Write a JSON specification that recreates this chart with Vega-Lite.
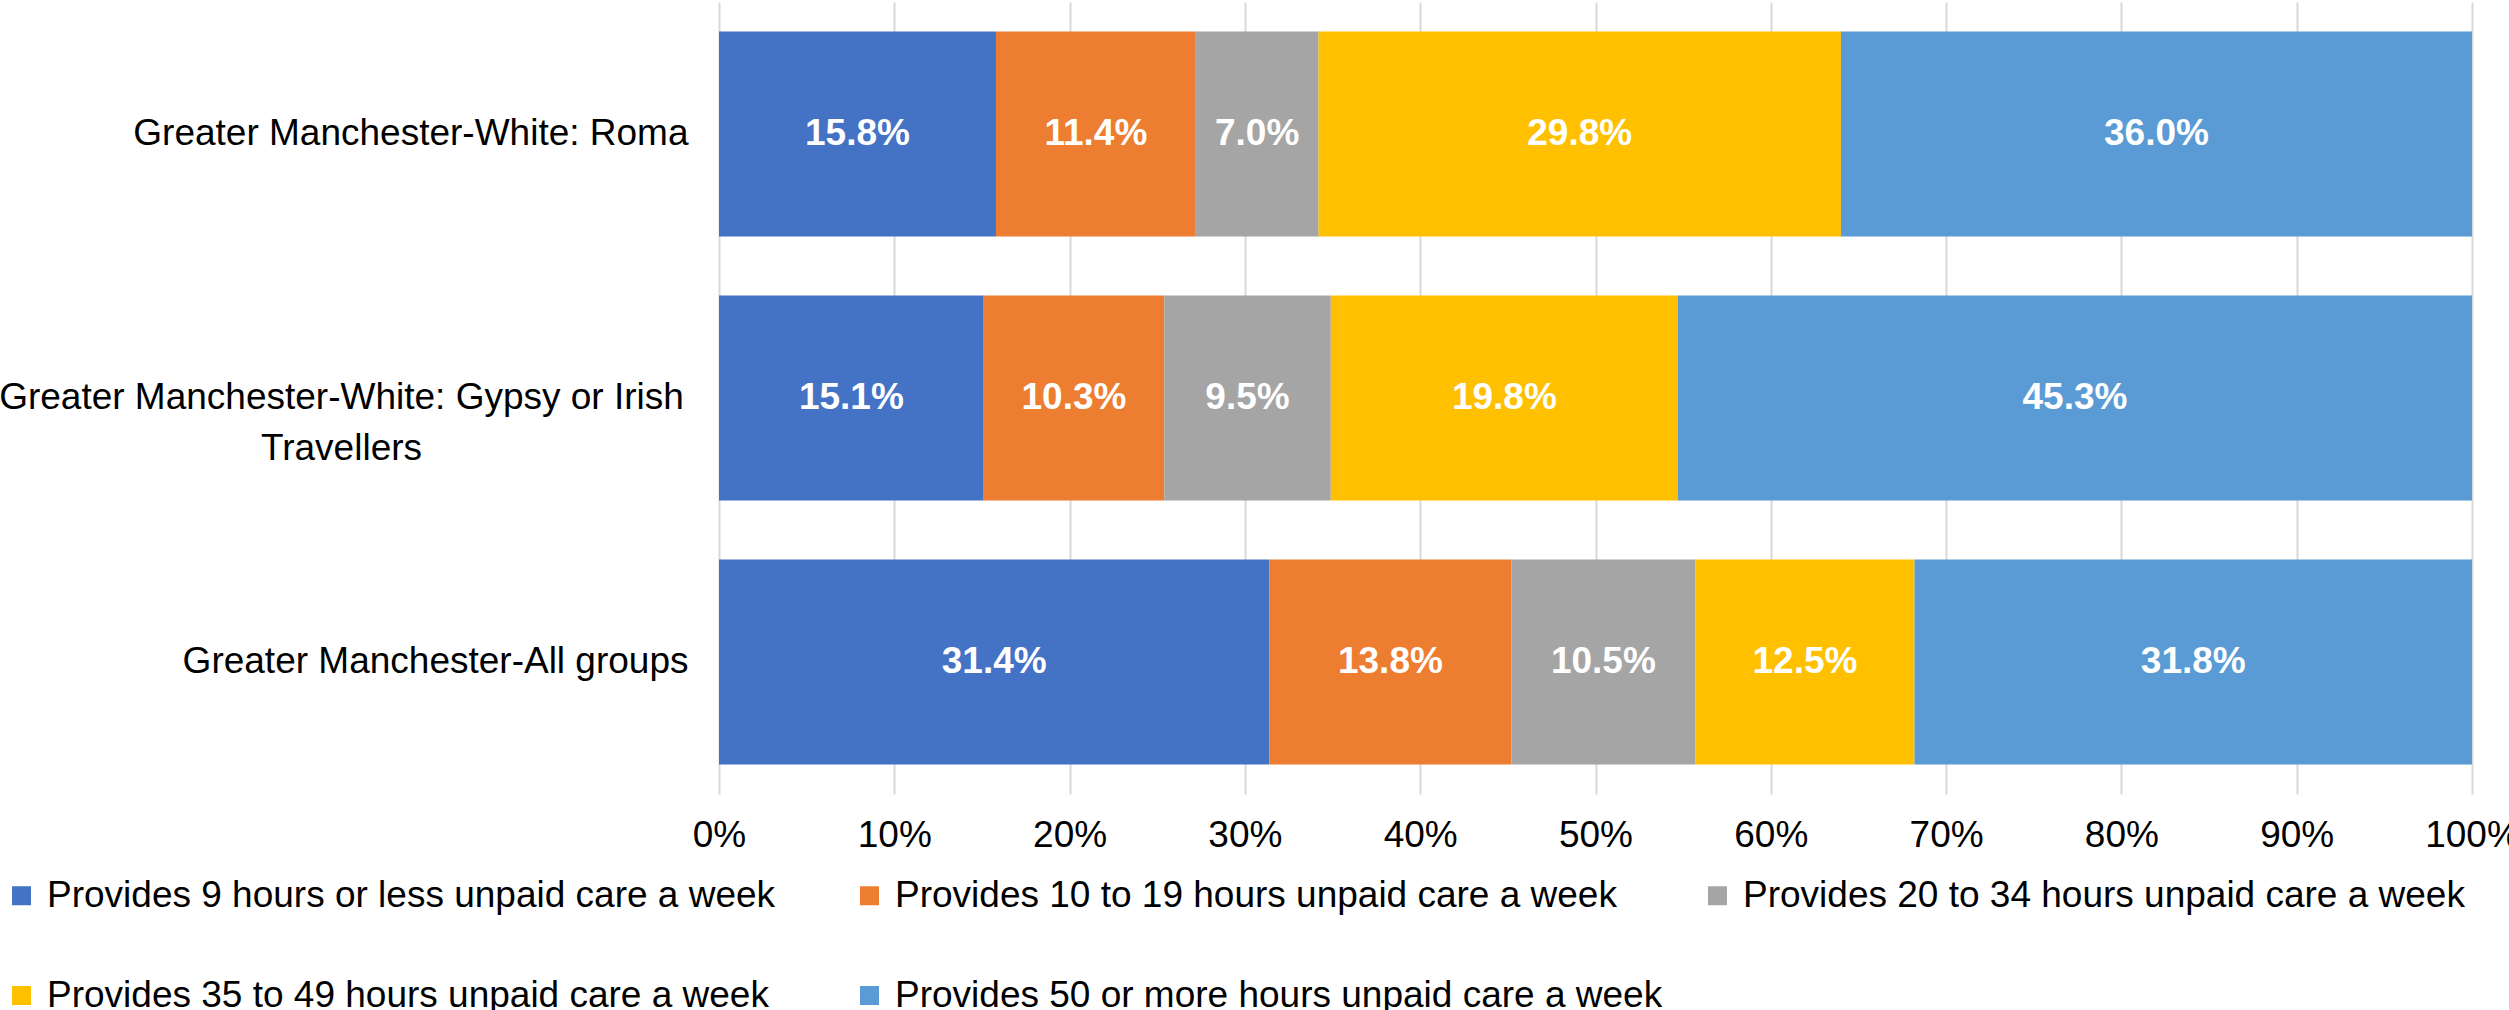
{
  "$schema": "https://vega.github.io/schema/vega-lite/v6.json",
  "width": 1753,
  "height": 792,
  "autosize": {"type": "none"},
  "padding": {"left": 719, "top": 2, "right": 37, "bottom": 216},
  "config": {"view": {"stroke": null}, "font": "Liberation Sans", "text": {"font": "Liberation Sans"}},
  "data": {
    "values": [
      {"group": "Greater Manchester-White: Roma", "cat": "Provides 9 hours or less unpaid care a week", "k": 1, "value": 0.158},
      {"group": "Greater Manchester-White: Roma", "cat": "Provides 10 to 19 hours unpaid care a week", "k": 2, "value": 0.114},
      {"group": "Greater Manchester-White: Roma", "cat": "Provides 20 to 34 hours unpaid care a week", "k": 3, "value": 0.070},
      {"group": "Greater Manchester-White: Roma", "cat": "Provides 35 to 49 hours unpaid care a week", "k": 4, "value": 0.298},
      {"group": "Greater Manchester-White: Roma", "cat": "Provides 50 or more hours unpaid care a week", "k": 5, "value": 0.360},
      {"group": "Greater Manchester-White: Gypsy or Irish Travellers", "cat": "Provides 9 hours or less unpaid care a week", "k": 1, "value": 0.151},
      {"group": "Greater Manchester-White: Gypsy or Irish Travellers", "cat": "Provides 10 to 19 hours unpaid care a week", "k": 2, "value": 0.103},
      {"group": "Greater Manchester-White: Gypsy or Irish Travellers", "cat": "Provides 20 to 34 hours unpaid care a week", "k": 3, "value": 0.095},
      {"group": "Greater Manchester-White: Gypsy or Irish Travellers", "cat": "Provides 35 to 49 hours unpaid care a week", "k": 4, "value": 0.198},
      {"group": "Greater Manchester-White: Gypsy or Irish Travellers", "cat": "Provides 50 or more hours unpaid care a week", "k": 5, "value": 0.453},
      {"group": "Greater Manchester-All groups", "cat": "Provides 9 hours or less unpaid care a week", "k": 1, "value": 0.314},
      {"group": "Greater Manchester-All groups", "cat": "Provides 10 to 19 hours unpaid care a week", "k": 2, "value": 0.138},
      {"group": "Greater Manchester-All groups", "cat": "Provides 20 to 34 hours unpaid care a week", "k": 3, "value": 0.105},
      {"group": "Greater Manchester-All groups", "cat": "Provides 35 to 49 hours unpaid care a week", "k": 4, "value": 0.125},
      {"group": "Greater Manchester-All groups", "cat": "Provides 50 or more hours unpaid care a week", "k": 5, "value": 0.318}
    ]
  },
  "transform": [
    {"stack": "value", "groupby": ["group"], "sort": [{"field": "k", "order": "ascending"}], "as": ["v0", "v1"]},
    {"calculate": "(datum.v0 + datum.v1) / 2", "as": "mid"}
  ],
  "encoding": {
    "y": {
      "field": "group",
      "type": "nominal",
      "sort": ["Greater Manchester-White: Roma", "Greater Manchester-White: Gypsy or Irish Travellers", "Greater Manchester-All groups"],
      "scale": {"paddingInner": 0.2235, "paddingOuter": 0.112},
      "axis": {
        "title": null,
        "domain": false,
        "ticks": false,
        "grid": false,
        "labelFont": "Liberation Sans",
        "labelFontSize": 37,
        "labelColor": "#000000",
        "labelLimit": 2000,
        "labelLineHeight": 51,
        "labelBaseline": "middle",
        "labelExpr": "datum.value === 'Greater Manchester-White: Gypsy or Irish Travellers' ? ['Greater Manchester-White: Gypsy or Irish', 'Travellers'] : datum.value",
        "labelAlign": {"condition": {"test": "datum.value === 'Greater Manchester-White: Gypsy or Irish Travellers'", "value": "center"}, "value": "right"},
        "labelPadding": {"condition": {"test": "datum.value === 'Greater Manchester-White: Gypsy or Irish Travellers'", "value": 378}, "value": 31}
      }
    }
  },
  "layer": [
    {
      "mark": {"type": "bar"},
      "encoding": {
        "x": {
          "field": "v0",
          "type": "quantitative",
          "scale": {"domain": [0, 1], "nice": false},
          "axis": {
            "title": null,
            "domain": false,
            "ticks": false,
            "grid": true,
            "gridColor": "#D9D9D9",
            "gridWidth": 2,
            "values": [0, 0.1, 0.2, 0.3, 0.4, 0.5, 0.6, 0.7, 0.8, 0.9, 1],
            "format": ".0%",
            "labelFont": "Liberation Sans",
            "labelFontSize": 37,
            "labelColor": "#000000",
            "labelPadding": 23,
            "labelFlush": false,
            "labelOverlap": false
          }
        },
        "x2": {"field": "v1"},
        "color": {
          "field": "cat",
          "type": "nominal",
          "scale": {
            "domain": [
              "Provides 9 hours or less unpaid care a week",
              "Provides 10 to 19 hours unpaid care a week",
              "Provides 20 to 34 hours unpaid care a week",
              "Provides 35 to 49 hours unpaid care a week",
              "Provides 50 or more hours unpaid care a week"
            ],
            "range": ["#4472C4", "#ED7D31", "#A5A5A5", "#FFC000", "#5B9BD5"]
          },
          "legend": {
            "title": null,
            "orient": "none",
            "legendX": -716,
            "legendY": 875,
            "direction": "horizontal",
            "columns": 3,
            "gridAlign": "all",
            "columnPadding": 36,
            "rowPadding": 62,
            "symbolType": "square",
            "symbolSize": 361,
            "symbolStrokeWidth": 0,
            "labelOffset": 7,
            "labelFont": "Liberation Sans",
            "labelFontSize": 37,
            "labelColor": "#000000",
            "labelLimit": 2000
          }
        }
      }
    },
    {
      "mark": {"type": "text", "color": "#FFFFFF", "fontWeight": "bold", "fontSize": 37, "font": "Liberation Sans"},
      "encoding": {
        "x": {"field": "mid", "type": "quantitative"},
        "text": {"field": "value", "type": "quantitative", "format": ".1%"}
      }
    }
  ]
}
